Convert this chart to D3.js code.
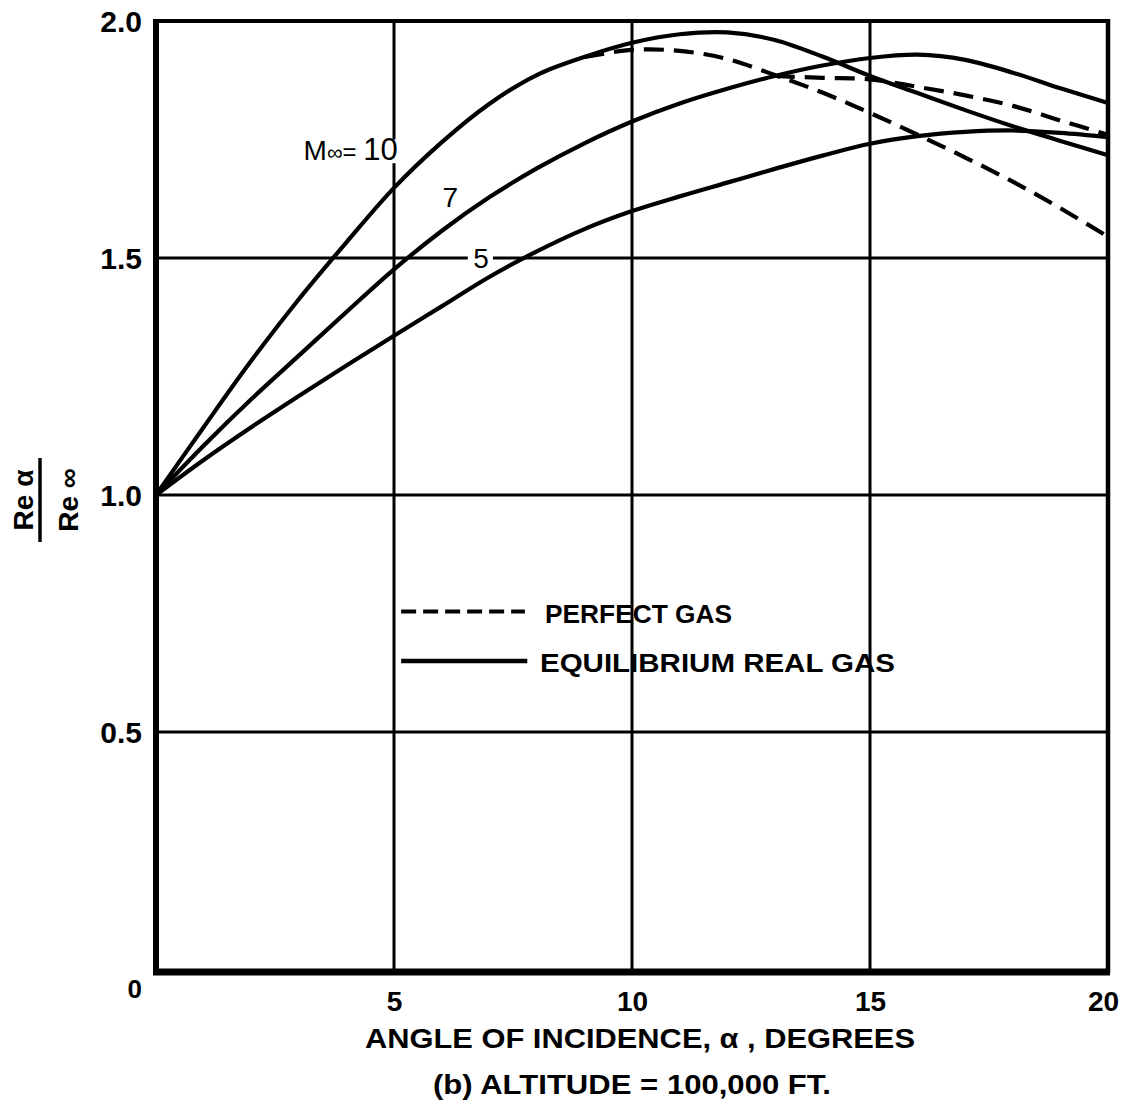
<!DOCTYPE html>
<html>
<head>
<meta charset="utf-8">
<script src="https://cdn.jsdelivr.net/npm/d3@7"></script>
<style>
  html, body { margin: 0; padding: 0; background: #fff; }
  svg { display: block; }
  text { font-family: "Liberation Sans", Arial, sans-serif; fill: #000; }
</style>
</head>
<body>
<svg id="chart" width="1132" height="1108"></svg>
<script>
// ---------- data ----------
const alpha = [0,1,2,3,4,5,6,7,8,9,10,11,12,13,14,15,16,17,18,19,20];
const m10Real = [1.000,1.143,1.283,1.413,1.533,1.648,1.744,1.825,1.886,1.924,1.954,1.972,1.976,1.960,1.925,1.884,1.848,1.812,1.778,1.747,1.717];
const m7Real  = [1.000,1.104,1.202,1.294,1.386,1.476,1.557,1.628,1.689,1.742,1.788,1.826,1.857,1.884,1.906,1.922,1.929,1.918,1.891,1.858,1.827];
const m5Real  = [1.000,1.074,1.143,1.209,1.273,1.336,1.398,1.460,1.514,1.561,1.599,1.630,1.659,1.688,1.716,1.741,1.757,1.766,1.769,1.764,1.755];

const alphaM10Perfect = [9,10,11,12,13,14,15,16,17,18,19,20];
const m10Perfect = [1.924,1.939,1.937,1.920,1.886,1.849,1.806,1.760,1.712,1.661,1.605,1.545];
const alphaM7Perfect = [13,14,15,16,17,18,19,20];
const m7Perfect = [1.884,1.880,1.877,1.861,1.843,1.821,1.790,1.760];

const xTicks = [5,10,15,20];
const yTicks = [0.5,1.0,1.5,2.0];
const originLabel = "0";
const curveLabels = ["10","7","5"];
const legendLabels = ["PERFECT GAS","EQUILIBRIUM REAL GAS"];
const xTitle = "ANGLE OF INCIDENCE, α  , DEGREES";
const subTitle = "(b) ALTITUDE = 100,000 FT.";

// ---------- scales ----------
const svg = d3.select("#chart");
const x = d3.scaleLinear().domain([0,20]).range([156,1108]);
const y = d3.scaleLinear().domain([0,2]).range([969,21]);

// ---------- grid ----------
const grid = svg.append("g").attr("stroke","#000").attr("stroke-width",3);
grid.selectAll("line.v").data([5,10,15]).join("line")
  .attr("x1",d=>x(d)).attr("x2",d=>x(d)).attr("y1",y(2)).attr("y2",y(0));
grid.selectAll("line.h").data([0.5,1.0,1.5]).join("line")
  .attr("y1",d=>y(d)).attr("y2",d=>y(d)).attr("x1",x(0)).attr("x2",x(20));

// ---------- frame ----------
svg.append("line").attr("x1",x(0)).attr("x2",x(20)).attr("y1",y(2)).attr("y2",y(2)).attr("stroke","#000").attr("stroke-width",4);
svg.append("line").attr("x1",x(20)).attr("x2",x(20)).attr("y1",y(2)-2).attr("y2",y(0)+4).attr("stroke","#000").attr("stroke-width",4.5);
svg.append("line").attr("x1",x(0)).attr("x2",x(0)).attr("y1",y(2)-2).attr("y2",y(0)+5).attr("stroke","#000").attr("stroke-width",6);
svg.append("line").attr("x1",x(0)-3).attr("x2",x(20)+2).attr("y1",y(0)+3).attr("y2",y(0)+3).attr("stroke","#000").attr("stroke-width",7);

// ---------- label knockouts on grid lines ----------
svg.append("rect").attr("x",x(6.55)).attr("y",y(1.5)-8).attr("width",x(7.08)-x(6.55)).attr("height",16).attr("fill","#fff");
svg.append("rect").attr("x",x(4.9)).attr("y",y(1.75)).attr("width",x(5.1)-x(4.9)).attr("height",y(1.7)-y(1.75)).attr("fill","#fff");

// ---------- curves ----------
const line = d3.line().x(d=>x(d[0])).y(d=>y(d[1])).curve(d3.curveCatmullRom.alpha(0.5));
const series = [
  {a: alpha, v: m10Real, dash: null},
  {a: alpha, v: m7Real, dash: null},
  {a: alpha, v: m5Real, dash: null},
  {a: alphaM10Perfect, v: m10Perfect, dash: "20,10"},
  {a: alphaM7Perfect, v: m7Perfect, dash: "20,10"}
];
svg.append("g").selectAll("path").data(series).join("path")
  .attr("d", s => line(s.a.map((a,i)=>[a, s.v[i]])))
  .attr("fill","none").attr("stroke","#000").attr("stroke-width",4.2)
  .attr("stroke-linejoin","round")
  .attr("stroke-dasharray", s => s.dash);

// ---------- axes (labels only) ----------
const xAxis = d3.axisBottom(x).tickValues(xTicks).tickSize(0).tickPadding(0).tickFormat(d3.format("d"));
const gx = svg.append("g").attr("transform",`translate(0,${y(0)})`).call(xAxis);
gx.select(".domain").remove();
gx.selectAll("text").attr("dy",null).attr("y",42).attr("font-size",28).attr("font-weight","bold")
  .attr("font-family","Liberation Sans, Arial, sans-serif")
  .attr("x", d => d===20 ? -5 : 0);

const yAxis = d3.axisLeft(y).tickValues(yTicks).tickSize(0).tickPadding(14).tickFormat(d3.format(".1f"));
const gy = svg.append("g").attr("transform",`translate(${x(0)},0)`).call(yAxis);
gy.select(".domain").remove();
gy.selectAll("text").attr("font-size",30).attr("font-weight","bold")
  .attr("font-family","Liberation Sans, Arial, sans-serif").attr("dy","0.36em");

svg.append("text").attr("x",x(0)-14).attr("y",y(0)+29).attr("text-anchor","end")
  .attr("font-size",26).attr("font-weight","bold").text(originLabel);

// ---------- curve labels ----------
const lab = svg.append("text").attr("x",x(3.1)).attr("y",y(1.707)).attr("font-size",28);
lab.append("tspan").text("M");
lab.append("tspan").attr("font-size",22).text("∞");
lab.append("tspan").attr("font-size",24).text("= ");
lab.append("tspan").attr("font-size",31).text(curveLabels[0]);
svg.append("text").attr("x",x(6.02)).attr("y",y(1.607)).attr("font-size",28).text(curveLabels[1]);
svg.append("text").attr("x",x(6.83)).attr("y",y(1.5)+10).attr("text-anchor","middle").attr("font-size",28).text(curveLabels[2]);

// ---------- legend ----------
const lg = svg.append("g");
lg.append("line").attr("x1",x(5.15)).attr("x2",x(7.75)).attr("y1",y(0.754)).attr("y2",y(0.754))
  .attr("stroke","#000").attr("stroke-width",4).attr("stroke-dasharray","15,7");
lg.append("line").attr("x1",x(5.15)).attr("x2",x(7.8)).attr("y1",y(0.65)).attr("y2",y(0.65))
  .attr("stroke","#000").attr("stroke-width",4.5);
lg.append("text").attr("x",545).attr("y",y(0.754)+11).attr("font-size",25).attr("font-weight","bold")
  .attr("textLength",187).attr("lengthAdjust","spacingAndGlyphs").text(legendLabels[0]);
lg.append("text").attr("x",540).attr("y",y(0.65)+11).attr("font-size",25).attr("font-weight","bold")
  .attr("textLength",355).attr("lengthAdjust","spacingAndGlyphs").text(legendLabels[1]);

// ---------- titles ----------
svg.append("text").attr("x",365).attr("y",1048).attr("font-size",27).attr("font-weight","bold")
  .attr("textLength",550).attr("lengthAdjust","spacingAndGlyphs").text(xTitle);
svg.append("text").attr("x",433).attr("y",1094).attr("font-size",27).attr("font-weight","bold")
  .attr("textLength",398).attr("lengthAdjust","spacingAndGlyphs").text(subTitle);

// ---------- y label (fraction) ----------
const yl = svg.append("g").attr("transform","translate(44,500) rotate(-90)");
yl.append("text").attr("x",0).attr("y",-11).attr("text-anchor","middle").attr("font-size",28).attr("font-weight","bold").text("Re α");
yl.append("line").attr("x1",-42).attr("x2",42).attr("y1",-4).attr("y2",-4).attr("stroke","#000").attr("stroke-width",3.5);
yl.append("text").attr("x",0).attr("y",34).attr("text-anchor","middle").attr("font-size",28).attr("font-weight","bold").text("Re ∞");
</script>
</body>
</html>
